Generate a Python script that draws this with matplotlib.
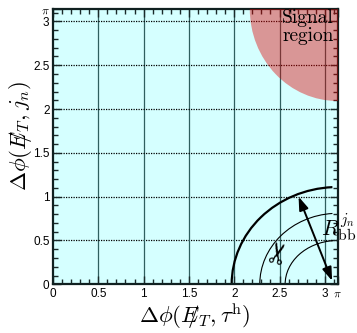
import numpy as np
import matplotlib
matplotlib.use("Agg")
import matplotlib.pyplot as plt
from matplotlib.patches import Arc, Ellipse

plt.rcParams['mathtext.fontset'] = 'cm'
plt.rcParams['font.family'] = ['Liberation Sans', 'DejaVu Sans']

PI = np.pi

# Axis ticks (same on both axes)
major_ticks = [0, 0.5, 1, 1.5, 2, 2.5, 3, PI]
major_labels = ['0', '0.5', '1', '1.5', '2', '2.5', '3', r'$\pi$']
grid_values = [0.5, 1, 1.5, 2, 2.5, 3]

# Signal region: ellipse centred on (pi, pi)
signal_center = (PI, PI)
signal_rx, signal_ry = 0.97, 1.05

# Cut contours centred on (pi, 0): (x radius, y radius, line width)
arc_rx = [1.17, 0.86, 0.58]
arc_ry = [1.11, 0.81, 0.50]
arc_lw = [1.6, 0.8, 0.8]
arc_end_x = 3.08

# Double-headed arrow for R_bb
arrow_start = (2.71, 1.00)
arrow_end = (3.08, 0.04)

# Scissors marker
scissors_pos = (2.50, 0.37)

fig = plt.figure(figsize=(3.57, 3.33), dpi=100)
ax = fig.add_axes([53/357, 1 - 284.3/333, (337.7 - 53)/357, (284.3 - 9)/333])
ax.set_facecolor('#d5ffff')
ax.set_xlim(0, PI)
ax.set_ylim(0, PI)

# grid: solid verticals, dotted horizontals
for v in grid_values:
    ax.axvline(v, color='#2f5f5f', lw=0.9, zorder=1)
    ax.axhline(v, color='black', lw=0.9, ls=(0, (1, 1)), zorder=1)

# contours
for rx, ry, lw in zip(arc_rx, arc_ry, arc_lw):
    t1 = np.degrees(np.arccos(-(PI - arc_end_x) / rx))
    ax.add_patch(Arc((PI, 0), 2*rx, 2*ry, theta1=t1, theta2=180,
                     color='black', lw=lw, zorder=3))

ax.annotate('', xy=arrow_end, xytext=arrow_start,
            arrowprops=dict(arrowstyle='<|-|>,head_length=0.8,head_width=0.28',
                            color='black', lw=1.4, shrinkA=0, shrinkB=0),
            zorder=4)

ax.text(scissors_pos[0], scissors_pos[1], '\u2702', fontsize=21,
        rotation=75, ha='center', va='center', family='DejaVu Sans', zorder=4)

# ticks
for axis in (ax.xaxis, ax.yaxis):
    axis.set_ticks(major_ticks)
    axis.set_ticks(np.arange(0, 3.15, 0.1), minor=True)
ax.set_xticklabels(major_labels)
ax.set_yticklabels(major_labels)
ax.tick_params(which='both', direction='in', top=True, right=True,
               labelsize=8.5, color='#1a2a2a', pad=2.5)
ax.tick_params(which='major', length=6, width=1)
ax.tick_params(which='minor', length=3.5, width=1)
for s in ax.spines.values():
    s.set_linewidth(1.6)
    s.set_color('#102020')
    s.set_zorder(5)

# signal region, translucent over everything inside the frame
sig = Ellipse(signal_center, 2*signal_rx, 2*signal_ry, facecolor='#e00000',
              alpha=0.41, edgecolor='none', zorder=6, clip_on=True)
ax.add_patch(sig)

ax.text(334/357, 1 - 9/333, 'Signal\nregion', transform=fig.transFigure,
        ha='right', va='top', multialignment='right', linespacing=1.0,
        fontsize=14, family='cmr10', zorder=7)

fig.text(321/357, 1 - 235/333, r'$R_{\mathrm{bb}}^{j_n}$', ha='left',
         va='baseline', fontsize=16)

fig.text(195/357, 1 - 316/333, r'$\Delta\phi(E\!\!\!/_T, \tau^{\mathrm{h}})$',
         ha='center', va='center', fontsize=16.5)
fig.text(20/357, 1 - 136/333, r'$\Delta\phi(E\!\!\!/_T, j_n)$',
         ha='center', va='center', fontsize=16.5, rotation=90)

fig.savefig('out.png', dpi=100)
